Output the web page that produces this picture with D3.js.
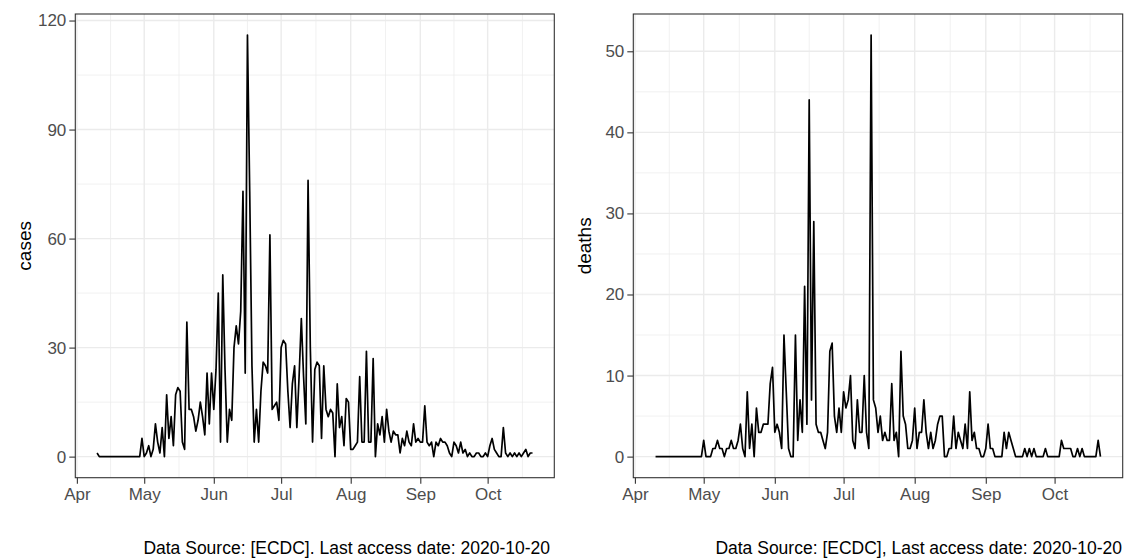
<!DOCTYPE html>
<html>
<head>
<meta charset="utf-8">
<script src="https://cdn.jsdelivr.net/npm/d3@7"></script>
<style>
body { margin: 0; background: #fff; }
text { font-family: "Liberation Sans", Arial, sans-serif; }
</style>
</head>
<body>
<svg id="chart" width="1126" height="560"></svg>
<script>
// daily series, first day 2020-04-10
var startDate = "2020-04-10"

var cases = [
  1,0,0,0,0,0,0,0,0,0,
  0,0,0,0,0,0,0,0,0,0,
  5,0,1,3,0,2,9,4,1,8,
  0,17,5,11,3,17,19,18,4,2,
  37,13,13,11,7,10,15,11,6,23,
  9,23,13,24,45,4,50,24,4,13,
  10,30,36,31,40,73,23,116,73,25,
  4,13,4,18,26,25,23,61,13,14,
  15,10,30,32,31,18,8,20,25,8,
  22,38,22,9,76,30,4,24,26,25,
  5,25,13,11,13,12,0,20,8,11,
  3,16,15,2,2,3,4,22,4,4,
  29,4,4,27,0,9,6,11,4,13,
  7,4,7,6,6,1,5,3,7,4,
  3,9,4,5,4,4,14,4,3,4,
  0,4,3,5,4,4,3,1,0,4,
  3,1,4,1,2,0,1,0,0,1,
  1,0,0,1,0,3,5,2,1,0,
  0,8,1,0,1,0,1,0,1,0,
  1,2,0,1,1
]

var deaths = [
  0,0,0,0,0,0,0,0,0,0,
  0,0,0,0,0,0,0,0,0,0,
  0,2,0,0,0,1,1,2,1,1,
  0,1,1,2,1,1,2,4,1,0,
  8,1,4,0,6,3,3,4,4,4,
  9,11,3,4,3,1,15,8,1,0,
  0,15,2,7,3,21,4,44,7,29,
  4,3,3,2,1,3,13,14,5,3,
  6,3,8,6,7,10,2,1,7,3,
  3,10,3,1,52,7,6,3,5,2,
  3,2,2,9,2,3,0,13,5,4,
  1,1,2,6,1,3,3,7,3,1,
  3,1,2,4,5,5,0,0,1,1,
  5,1,3,2,1,4,1,8,2,3,
  1,1,0,0,1,4,1,1,0,0,
  0,0,3,1,3,2,1,0,0,0,
  0,1,0,1,0,1,0,0,0,0,
  1,0,0,0,0,0,0,2,1,1,
  1,1,0,0,1,0,1,0,0,0,
  0,0,0,2,0
]

var casesTicks = [0, 30, 60, 90, 120]
var deathsTicks = [0, 10, 20, 30, 40, 50]
var monthTicks = ["2020-04-01", "2020-05-01", "2020-06-01", "2020-07-01", "2020-08-01", "2020-09-01", "2020-10-01"]
var caption = "Data Source: [ECDC]. Last access date: 2020-10-20"
var caption2 = "Data Source: [ECDC], Last access date: 2020-10-20"

var parse = d3.timeParse("%Y-%m-%d")
var day0 = parse(startDate)
var svg = d3.select("#chart")

// draws one ggplot-like panel
function panel(values, yTicks, yTitle, cap, box)
{
    var data = values.map(function(v, i) { return {date: d3.timeDay.offset(day0, i), value: v} })
    var xExt = d3.extent(data, function(d) { return d.date })
    var span = xExt[1] - xExt[0]
    var x = d3.scaleTime()
        .domain([new Date(+xExt[0] - span * 0.05), new Date(+xExt[1] + span * 0.05)])
        .range([box.left, box.right])
    var yMax = d3.max(values)
    var y = d3.scaleLinear().domain([-yMax * 0.05, yMax * 1.05]).range([box.bottom, box.top])

    var majorX = monthTicks.map(parse)
    var minorX = []
    for(var i = 0; i < majorX.length; i++)
    {
        var next = i + 1 < majorX.length ? majorX[i + 1] : d3.timeMonth.offset(majorX[i], 1)
        minorX.push(new Date((+majorX[i] + +next) / 2))
    }
    minorX = minorX.filter(function(d) { return d >= x.domain()[0] && d <= x.domain()[1] })
    var step = yTicks[1] - yTicks[0]
    var minorY = yTicks.map(function(t) { return t + step / 2 }).filter(function(t) { return t < y.domain()[1] })

    var g = svg.append("g")
    g.append("rect").attr("x", box.left).attr("y", box.top)
        .attr("width", box.right - box.left).attr("height", box.bottom - box.top).attr("fill", "#fff")

    // grid
    g.selectAll(".minx").data(minorX).enter().append("line")
        .attr("x1", function(d) { return x(d) }).attr("x2", function(d) { return x(d) })
        .attr("y1", box.top).attr("y2", box.bottom).attr("stroke", "#ebebeb").attr("stroke-width", 0.7)
    g.selectAll(".miny").data(minorY).enter().append("line")
        .attr("y1", function(d) { return y(d) }).attr("y2", function(d) { return y(d) })
        .attr("x1", box.left).attr("x2", box.right).attr("stroke", "#ebebeb").attr("stroke-width", 0.7)
    g.selectAll(".majx").data(majorX).enter().append("line")
        .attr("x1", function(d) { return x(d) }).attr("x2", function(d) { return x(d) })
        .attr("y1", box.top).attr("y2", box.bottom).attr("stroke", "#ebebeb").attr("stroke-width", 1.4)
    g.selectAll(".majy").data(yTicks).enter().append("line")
        .attr("y1", function(d) { return y(d) }).attr("y2", function(d) { return y(d) })
        .attr("x1", box.left).attr("x2", box.right).attr("stroke", "#ebebeb").attr("stroke-width", 1.4)

    // series
    var line = d3.line().x(function(d) { return x(d.date) }).y(function(d) { return y(d.value) })
    g.append("path").datum(data).attr("d", line).attr("fill", "none")
        .attr("stroke", "#000").attr("stroke-width", 1.7).attr("stroke-linejoin", "round")

    g.append("rect").attr("x", box.left).attr("y", box.top)
        .attr("width", box.right - box.left).attr("height", box.bottom - box.top)
        .attr("fill", "none").attr("stroke", "#333").attr("stroke-width", 1.1)

    // axes
    var yAxis = d3.axisLeft(y).tickValues(yTicks).tickSize(6).tickPadding(3).tickFormat(d3.format("d"))
    var ya = g.append("g").attr("transform", "translate(" + box.left + ",0)").call(yAxis)
    var xAxis = d3.axisBottom(x).tickValues(majorX).tickSize(6).tickPadding(4).tickFormat(d3.timeFormat("%b"))
    var xa = g.append("g").attr("transform", "translate(0," + box.bottom + ")").call(xAxis)
    ;[ya, xa].forEach(function(a) {
        a.select(".domain").remove()
        a.selectAll(".tick line").attr("stroke", "#333").attr("stroke-width", 1.1)
        a.selectAll(".tick text").attr("fill", "#4d4d4d").style("font-size", "17px")
            .style("font-family", "'Liberation Sans', Arial, sans-serif")
    })

    g.append("text").attr("transform", "translate(" + box.titleX + "," + ((box.top + box.bottom) / 2) + ") rotate(-90)")
        .attr("text-anchor", "middle").style("font-size", "19px").attr("fill", "#000").text(yTitle)

    g.append("text").attr("x", box.capX).attr("y", 554).attr("text-anchor", "end")
        .style("font-size", "17.5px").attr("fill", "#000").text(cap)
}

panel(cases, casesTicks, "cases", caption, {left: 75.3, right: 554.3, top: 14, bottom: 477.7, titleX: 31, capX: 550})
panel(deaths, deathsTicks, "deaths", caption2, {left: 633.3, right: 1122.7, top: 14, bottom: 477.7, titleX: 591, capX: 1122})
</script>
</body>
</html>
